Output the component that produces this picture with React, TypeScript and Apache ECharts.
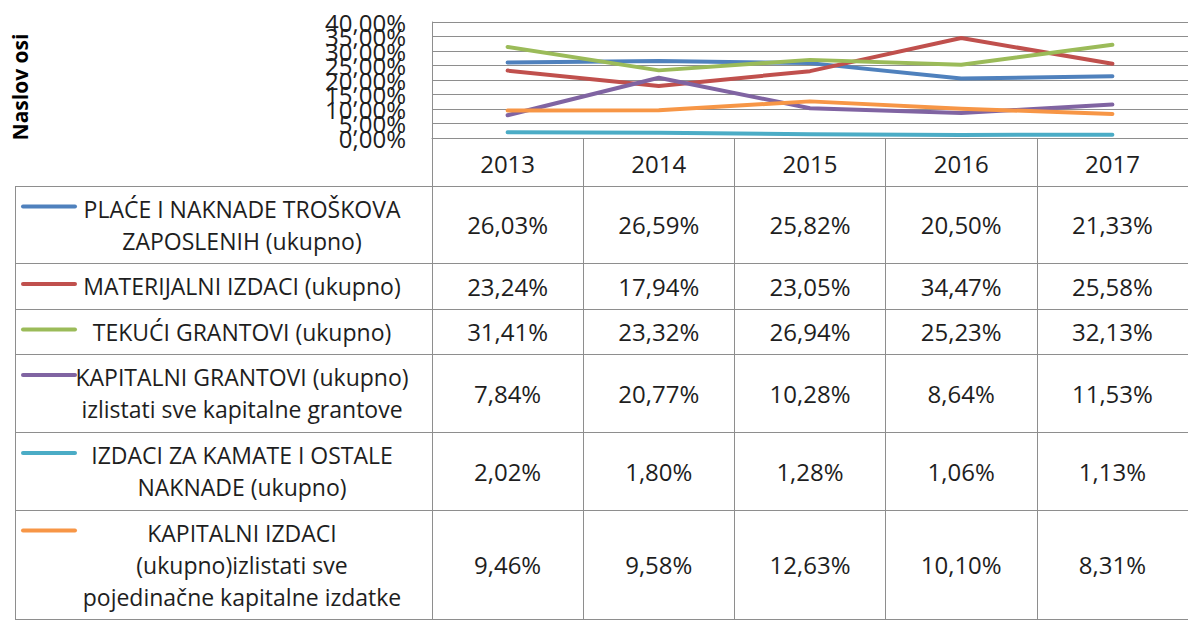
import React, { useEffect, useRef } from "react";
import * as echarts from "echarts";

const years = ["2013", "2014", "2015", "2016", "2017"];
const seriesNames = [
  "PLAĆE I NAKNADE TROŠKOVA ZAPOSLENIH (ukupno)",
  "MATERIJALNI IZDACI (ukupno)",
  "TEKUĆI GRANTOVI (ukupno)",
  "KAPITALNI GRANTOVI (ukupno) izlistati sve kapitalne grantove",
  "IZDACI ZA KAMATE I OSTALE NAKNADE (ukupno)",
  "KAPITALNI IZDACI (ukupno)izlistati sve pojedinačne kapitalne izdatke",
];
const legendLabels = [
  "PLAĆE I NAKNADE TROŠKOVA\nZAPOSLENIH (ukupno)",
  "MATERIJALNI IZDACI (ukupno)",
  "TEKUĆI GRANTOVI (ukupno)",
  "KAPITALNI GRANTOVI (ukupno)\nizlistati sve kapitalne grantove",
  "IZDACI ZA KAMATE I OSTALE\nNAKNADE (ukupno)",
  "KAPITALNI IZDACI\n(ukupno)izlistati sve\npojedinačne kapitalne izdatke",
];
const place = [26.03, 26.59, 25.82, 20.5, 21.33];
const materijalni = [23.24, 17.94, 23.05, 34.47, 25.58];
const tekuci = [31.41, 23.32, 26.94, 25.23, 32.13];
const kapitalniGrantovi = [7.84, 20.77, 10.28, 8.64, 11.53];
const kamate = [2.02, 1.8, 1.28, 1.06, 1.13];
const kapitalniIzdaci = [9.46, 9.58, 12.63, 10.1, 8.31];
const allValues = [place, materijalni, tekuci, kapitalniGrantovi, kamate, kapitalniIzdaci];
const colors = ["#4F81BD", "#C0504D", "#9BBB59", "#8064A2", "#4BACC6", "#F79646"];
const yMin = 0;
const yMax = 40;
const yStep = 5;
const axisTitle = "Naslov osi";

// layout (pixels)
const GRID_LEFT = 432;
const GRID_TOP = 22;
const GRID_BOTTOM_Y = 138;
const COL_W = 152;
const TABLE_LEFT = 15;
const ROW_LINES = [186, 263, 309, 354, 432, 510, 619];
const FONT = "'Open Sans', 'Noto Sans', sans-serif";
const GRAY = "#8e8e8e";
const TEXT = "#1e1e1e";
const FS = 24;
const LEG_FS = 23;
const LH = 32;

const fmt = (v: number) => v.toFixed(2).replace(".", ",") + "%";

export default function App() {
  const ref = useRef<HTMLDivElement>(null);
  useEffect(() => {
    if (!ref.current) return;
    const chart = echarts.init(ref.current, undefined, { renderer: "svg" });
    const W = 1188;
    const rowCenters = ROW_LINES.slice(0, -1).map((y, i) => (y + ROW_LINES[i + 1]) / 2);

    const rowAxes = allValues.map((vals, r) => ({
      type: "category",
      data: years,
      gridIndex: 0,
      position: "bottom",
      offset: rowCenters[r] - GRID_BOTTOM_Y,
      axisLine: { show: false },
      axisTick: { show: false },
      splitLine: { show: false },
      axisLabel: {
        interval: 0,
        margin: 0,
        verticalAlign: "middle",
        fontFamily: FONT,
        fontSize: FS,
        color: TEXT,
        formatter: (_v: string, i: number) => fmt(vals[i]),
      },
    }));

    const graphic: any[] = [];
    ROW_LINES.forEach((y) => {
      graphic.push({
        type: "line",
        shape: { x1: TABLE_LEFT, y1: y + 0.5, x2: W, y2: y + 0.5 },
        style: { stroke: GRAY, lineWidth: 1 },
        silent: true,
      });
    });
    graphic.push({
      type: "line",
      shape: {
        x1: TABLE_LEFT + 0.5,
        y1: ROW_LINES[0],
        x2: TABLE_LEFT + 0.5,
        y2: ROW_LINES[ROW_LINES.length - 1],
      },
      style: { stroke: GRAY, lineWidth: 1 },
      silent: true,
    });
    legendLabels.forEach((label, r) => {
      const nLines = label.split("\n").length;
      const cy = rowCenters[r];
      const firstY = cy - ((nLines - 1) * LH) / 2;
      graphic.push({
        type: "line",
        shape: { x1: 23, y1: firstY - 2, x2: 75, y2: firstY - 2 },
        style: { stroke: colors[r], lineWidth: 4, lineCap: "round" },
        silent: true,
      });
      graphic.push({
        type: "text",
        x: 242,
        y: cy,
        style: {
          text: label,
          fontFamily: FONT,
          fontSize: LEG_FS,
          lineHeight: LH,
          fill: TEXT,
          align: "center",
          verticalAlign: "middle",
        },
        silent: true,
      });
    });
    graphic.push({
      type: "text",
      x: 20,
      y: 87,
      rotation: Math.PI / 2,
      style: {
        text: axisTitle,
        fontFamily: FONT,
        fontSize: 21,
        fontWeight: "bold",
        fill: "#000",
        align: "center",
        verticalAlign: "middle",
      },
      silent: true,
    });

    const yLabelBase = {
      margin: 26,
      hideOverlap: false,
      verticalAlign: "middle",
      fontFamily: FONT,
      fontSize: FS,
      color: TEXT,
    };

    chart.setOption({
      animation: false,
      backgroundColor: "#fff",
      grid: {
        left: GRID_LEFT,
        top: GRID_TOP,
        width: COL_W * years.length,
        height: GRID_BOTTOM_Y - GRID_TOP,
        containLabel: false,
      },
      xAxis: [
        {
          type: "category",
          data: years,
          boundaryGap: true,
          position: "bottom",
          axisLine: { show: true, lineStyle: { color: GRAY, width: 1 } },
          axisTick: {
            show: true,
            length: ROW_LINES[ROW_LINES.length - 1] - GRID_BOTTOM_Y,
            lineStyle: { color: GRAY, width: 1 },
          },
          axisLabel: {
            interval: 0,
            margin: 25,
            verticalAlign: "middle",
            fontFamily: FONT,
            fontSize: FS,
            color: TEXT,
          },
          splitLine: { show: false },
        },
        ...rowAxes,
      ],
      yAxis: [
        {
          // even ticks (0, 10, 20, 30, 40)
          type: "value",
          position: "left",
          min: yMin,
          max: yMax,
          interval: yStep * 2,
          axisLine: { show: true, lineStyle: { color: GRAY, width: 1 } },
          axisTick: { show: false },
          splitLine: { show: false },
          axisLabel: {
            ...yLabelBase,
            showMinLabel: true,
            showMaxLabel: true,
            formatter: (v: number) => fmt(v),
          },
        },
        {
          // all gridlines and odd ticks (5, 15, 25, 35)
          type: "value",
          position: "left",
          min: yMin,
          max: yMax,
          interval: yStep,
          axisLine: { show: false },
          axisTick: { show: false },
          splitLine: { show: true, lineStyle: { color: GRAY, width: 1 } },
          axisLabel: {
            ...yLabelBase,
            showMinLabel: false,
            showMaxLabel: false,
            formatter: (v: number) => (Math.round(v / yStep) % 2 === 1 ? fmt(v) : ""),
          },
        },
      ],
      series: allValues.map((vals, i) => ({
        name: seriesNames[i],
        type: "line",
        xAxisIndex: 0,
        yAxisIndex: 0,
        data: vals,
        symbol: "none",
        color: colors[i],
        lineStyle: { width: 4, color: colors[i], cap: "round", join: "round" },
      })),
      graphic,
    });
    return () => chart.dispose();
  }, []);
  return (
    <div
      ref={ref}
      style={{ position: "absolute", left: 0, top: 0, width: 1188, height: 621 }}
    />
  );
}
